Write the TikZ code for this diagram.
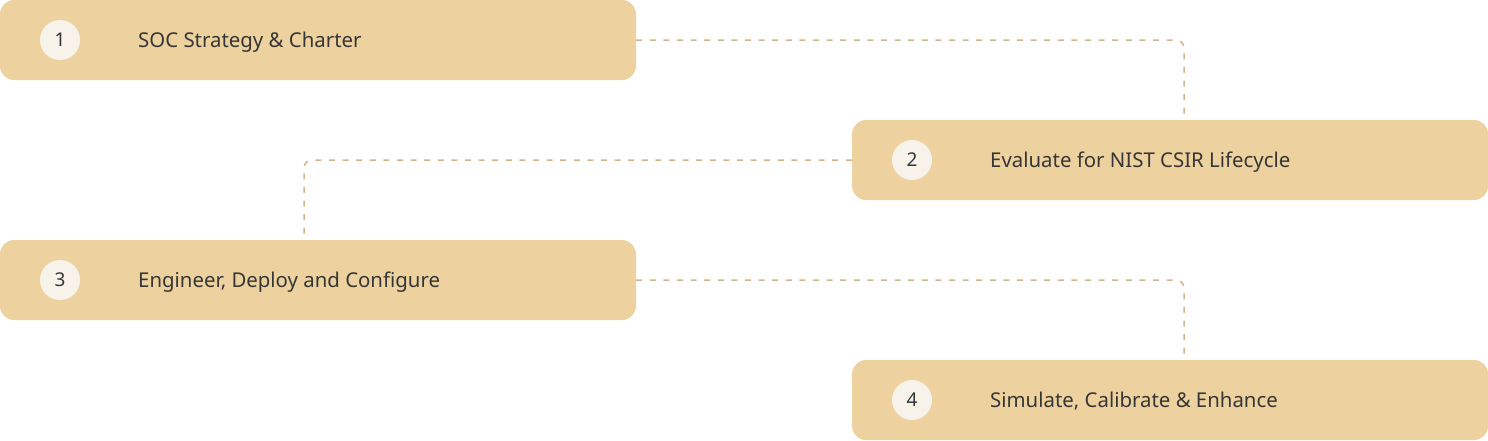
\documentclass[tikz,border=0pt]{standalone}
\usepackage{fontspec}
\setmainfont{Noto Sans}
\definecolor{boxfill}{HTML}{EDD29F}
\definecolor{circfill}{HTML}{F7F3EB}
\definecolor{conncol}{HTML}{CFB48D}
\definecolor{txt}{HTML}{363636}
\begin{document}
\begin{tikzpicture}[x=1pt,y=-1pt,
  stepbox/.style={fill=boxfill, draw=none, rounded corners=14pt, minimum width=636pt, minimum height=80pt, inner sep=0pt},
  numcirc/.style={circle, fill=circfill, draw=none, minimum size=40pt, inner sep=0pt, text=txt, font=\fontsize{19}{22}\selectfont},
  label/.style={anchor=base west, inner sep=0pt, text=txt, font=\fontsize{20.4}{24}\selectfont},
  conn/.style={draw=conncol, line width=1.5pt, dash pattern=on 6pt off 7.6pt, rounded corners=8pt}]
\useasboundingbox (0,0) rectangle (1488,440);
\node[stepbox] (b1) at (318,40) {};
\node[stepbox] (b2) at (1170,160) {};
\node[stepbox] (b3) at (318,280) {};
\node[stepbox] (b4) at (1170,400) {};
\node[numcirc] (c1) at (60,40) {1};
\node[numcirc] (c2) at (912,160) {2};
\node[numcirc] (c3) at (60,280) {3};
\node[numcirc] (c4) at (912,400) {4};
\node[label] (t1) at (138,47) {SOC Strategy \& Charter};
\node[label] (t2) at (990,167) {Evaluate for NIST CSIR Lifecycle};
\node[label] (t3) at (138,287) {Engineer, Deploy and Configure};
\node[label] (t4) at (990,407) {Simulate, Calibrate \& Enhance};
\draw[conn] (b1.east) -| ([xshift=14pt]b2.north);
\draw[conn] (b2.west) -| ([xshift=-14pt]b3.north);
\draw[conn] (b3.east) -| ([xshift=14pt]b4.north);
\end{tikzpicture}
\end{document}
